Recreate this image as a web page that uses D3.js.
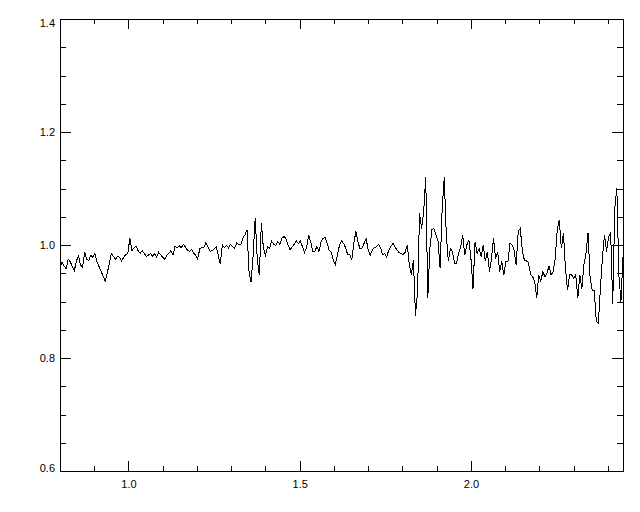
<!DOCTYPE html>
<html>
<head>
<meta charset="utf-8">
<script src="https://cdn.jsdelivr.net/npm/d3@7"></script>
<style>
  html, body { margin: 0; padding: 0; background: #fff; }
  svg { display: block; }
  text { font-family: "Liberation Sans", Arial, sans-serif; font-size: 11px; fill: #000; }
</style>
</head>
<body>
<svg id="chart" width="640" height="512"></svg>
<script>
// ---- Data ----
const xStart = 0.8;      // first sample wavelength
const xStep = 0.006;     // sample spacing
const fluxValues = [
  0.96, 0.97, 0.963, 0.958, 0.975, 0.97, 0.962, 0.955, 0.972, 0.98,
  0.965, 0.96, 0.988, 0.975, 0.972, 0.982, 0.978, 0.985, 0.97, 0.962,
  0.953, 0.945, 0.936, 0.95, 0.968, 0.985, 0.98, 0.975, 0.98, 0.978,
  0.972, 0.978, 0.983, 0.985, 1.012, 0.99, 0.995, 0.998, 0.99, 0.985,
  0.99, 0.985, 0.98, 0.982, 0.985, 0.98, 0.985, 0.978, 0.987, 0.983,
  0.978, 0.975, 0.982, 0.985, 0.99, 0.982, 0.998,
  0.995, 0.999, 0.995, 1.001, 0.997, 0.991, 0.989, 0.992, 0.986, 0.982,
  0.975, 0.993, 0.996, 0.995, 1.004, 0.997, 0.989, 0.99, 0.993, 0.997,
  0.982, 0.966, 1.0, 0.995, 0.999, 0.995, 1.001, 0.997, 0.994, 1.004,
  1.001, 1.0, 1.012, 1.018, 1.027, 0.953, 0.934, 0.982, 1.048, 0.976,
  0.947, 1.038, 0.994, 0.982, 0.997, 0.994, 1.007, 1.001, 0.999, 1.006,
  1.001, 1.012, 1.015,
  1.011, 1.0, 0.991, 0.997, 1.001, 1.008, 1.002, 1.007, 0.997, 0.987,
  0.995, 1.017, 1.006, 0.989, 0.988, 0.998, 0.988, 1.005, 1.012, 1.013,
  1.003, 0.991, 0.987, 0.973, 0.966, 0.982, 0.999, 1.007, 1.003, 0.995,
  0.983, 0.983, 0.973, 1.003, 1.024, 1.006, 0.993, 0.995, 1.003, 1.011,
  0.991, 0.982, 0.991, 0.995, 0.997, 1.001, 0.995, 0.983, 0.985, 0.979,
  0.991, 0.997, 1.003, 0.997, 0.991,
  0.987, 0.985, 0.983, 0.987, 1.0, 0.965, 0.947, 0.973, 0.875, 0.917,
  1.056, 1.029, 1.059, 1.12, 0.906, 0.994, 1.027, 1.029, 1.018, 1.006,
  0.959, 1.065, 1.12, 1.018, 0.971, 0.994, 0.988, 0.968, 0.968, 0.985,
  0.997, 1.018, 0.982, 1.0, 1.009, 0.976, 0.923, 1.006, 0.985, 0.994,
  0.979, 1.0, 0.971, 0.988, 0.953, 0.976, 1.012, 0.976, 0.988, 0.953,
  0.971, 0.947, 0.971, 0.971, 1.003,
  1.0, 0.991, 0.965, 1.024, 1.029, 0.991, 0.973, 0.972, 0.969, 0.948,
  0.944, 0.936, 0.906, 0.947, 0.936, 0.953, 0.944, 0.95, 0.963, 0.947,
  0.953, 0.976, 1.027, 1.045, 0.994, 1.021, 0.959, 0.92, 0.947, 0.947,
  0.941, 0.947, 0.906, 0.947, 0.923, 0.966, 0.985, 1.022, 0.941, 0.92,
  0.92, 0.865, 0.862, 0.923, 0.979, 1.018, 0.988, 1.015, 1.021, 0.895,
  1.065, 1.1, 0.947, 0.9, 0.979
];
const xMajorTicks = [1.0, 1.5, 2.0];
const xMinorTicks = [0.9, 1.1, 1.2, 1.3, 1.4, 1.6, 1.7, 1.8, 1.9, 2.1, 2.2, 2.3, 2.4];
const yMajorTicks = [0.6, 0.8, 1.0, 1.2, 1.4];
const yMinorTicks = [0.65, 0.7, 0.75, 0.85, 0.9, 0.95, 1.05, 1.1, 1.15, 1.25, 1.3, 1.35];
const xDomain = [0.8, 2.444];
const yDomain = [0.6, 1.4];

(function () {
// ---- Layout ----
const mLeft = 60, mRight = 623, mTop = 19, mBottom = 471;
const svg = d3.select("#chart");

const x = d3.scaleLinear().domain(xDomain).range([mLeft, mRight]);
const y = d3.scaleLinear().domain(yDomain).range([mBottom, mTop]);

const pts = fluxValues.map((v, i) => [xStart + i * xStep, v]);

svg.append("defs").append("clipPath").attr("id", "clip")
  .append("rect").attr("x", mLeft).attr("y", mTop)
  .attr("width", mRight - mLeft).attr("height", mBottom - mTop);

svg.append("path")
  .datum(pts)
  .attr("clip-path", "url(#clip)")
  .attr("fill", "none")
  .attr("stroke", "#000")
  .attr("stroke-width", 1)
  .attr("shape-rendering", "crispEdges")
  .attr("d", d3.line().x(d => x(d[0])).y(d => y(d[1])));

function styleAxis(g) {
  g.select(".domain").remove();
  g.selectAll("line").attr("stroke", "#000").attr("shape-rendering", "crispEdges");
  g.selectAll("text").attr("font-family", null).attr("font-size", null);
}

const fmt = d3.format(".1f");

svg.append("g").attr("transform", `translate(0,${mBottom})`)
  .call(d3.axisBottom(x).tickValues(xMajorTicks).tickSizeInner(-10).tickSizeOuter(0).tickPadding(9).tickFormat(fmt))
  .call(styleAxis);
svg.append("g").attr("transform", `translate(0,${mBottom})`)
  .call(d3.axisBottom(x).tickValues(xMinorTicks).tickSizeInner(-5).tickSizeOuter(0).tickFormat(""))
  .call(styleAxis);
svg.append("g").attr("transform", `translate(0,${mTop})`)
  .call(d3.axisTop(x).tickValues(xMajorTicks).tickSizeInner(-10).tickSizeOuter(0).tickFormat(""))
  .call(styleAxis);
svg.append("g").attr("transform", `translate(0,${mTop})`)
  .call(d3.axisTop(x).tickValues(xMinorTicks).tickSizeInner(-5).tickSizeOuter(0).tickFormat(""))
  .call(styleAxis);
const gl = svg.append("g").attr("transform", `translate(${mLeft},0)`)
  .call(d3.axisLeft(y).tickValues(yMajorTicks).tickSizeInner(-11).tickSizeOuter(0).tickPadding(5).tickFormat(fmt))
  .call(styleAxis);
gl.selectAll(".tick text").attr("dy", d => d === yDomain[1] ? "0.65em" : (d === yDomain[0] ? "0.0em" : "0.32em"));
svg.append("g").attr("transform", `translate(${mLeft},0)`)
  .call(d3.axisLeft(y).tickValues(yMinorTicks).tickSizeInner(-6).tickSizeOuter(0).tickFormat(""))
  .call(styleAxis);
svg.append("g").attr("transform", `translate(${mRight},0)`)
  .call(d3.axisRight(y).tickValues(yMajorTicks).tickSizeInner(-11).tickSizeOuter(0).tickFormat(""))
  .call(styleAxis);
svg.append("g").attr("transform", `translate(${mRight},0)`)
  .call(d3.axisRight(y).tickValues(yMinorTicks).tickSizeInner(-6).tickSizeOuter(0).tickFormat(""))
  .call(styleAxis);

svg.append("rect")
  .attr("x", mLeft + 0.5).attr("y", mTop + 0.5)
  .attr("width", mRight - mLeft).attr("height", mBottom - mTop)
  .attr("fill", "none").attr("stroke", "#000").attr("stroke-width", 1)
  .attr("shape-rendering", "crispEdges");
})();
</script>
</body>
</html>
